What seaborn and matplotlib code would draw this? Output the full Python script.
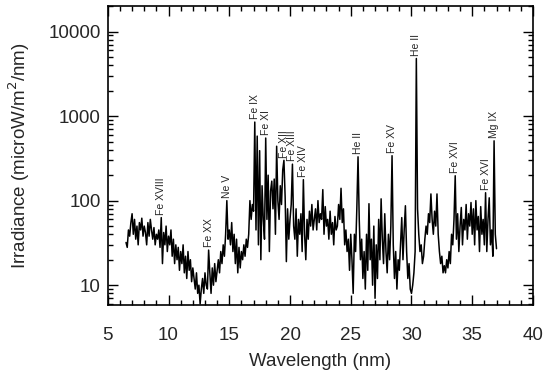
import numpy as np
import pandas as pd
import matplotlib
matplotlib.use("Agg")
import matplotlib.pyplot as plt
from matplotlib.ticker import MultipleLocator, LogLocator, FuncFormatter, NullFormatter
import seaborn as sns

# spectrum sampled every 0.1 nm starting at 6.5 nm
wl_start = 6.5
wl_step = 0.1
irradiance = [
    32, 28, 45, 38, 55, 70,                       # 6.5 - 7.0
    40, 60, 35, 50, 30, 55, 45, 62, 38, 50,       # 7.1 - 8.0
    42, 30, 55, 38, 60, 45, 35, 48, 30, 40,       # 8.1 - 9.0
    35, 45, 28, 63, 18, 42, 30, 50, 25, 38,       # 9.1 - 10.0
    30, 45, 22, 35, 18, 30, 20, 28, 15, 25,       # 10.1 - 11.0
    18, 30, 14, 22, 12, 25, 15, 20, 11, 16,       # 11.1 - 12.0
    12, 9, 14, 8, 10, 6, 9, 12, 8, 14,            # 12.1 - 13.0
    10, 9, 26, 14, 8, 16, 10, 18, 11, 15,         # 13.1 - 14.0
    20, 14, 25, 18, 30, 22, 40, 100, 35, 45,      # 14.1 - 15.0
    30, 55, 25, 40, 18, 35, 14, 28, 16, 25,       # 15.1 - 16.0
    20, 30, 22, 35, 28, 40, 100, 60, 90, 75,      # 16.1 - 17.0
    850, 45, 580, 30, 390, 20, 150, 60, 35, 550,  # 17.1 - 18.0
    60, 200, 25, 130, 170, 80, 180, 40, 440, 100, # 18.1 - 19.0
    60, 150, 90, 230, 300, 110, 19, 80, 35, 60,   # 19.1 - 20.0
    90, 270, 50, 35, 80, 22, 60, 40, 70, 25,      # 20.1 - 21.0
    177, 40, 20, 60, 35, 75, 50, 90, 45, 60,      # 21.1 - 22.0
    80, 45, 100, 55, 70, 60, 135, 40, 85, 50,     # 22.1 - 23.0
    60, 35, 75, 40, 55, 30, 65, 45, 50, 90,       # 23.1 - 24.0
    60, 140, 55, 80, 30, 45, 25, 35, 15, 40,      # 24.1 - 25.0
    20, 8, 40, 25, 80, 330, 60, 20, 35, 12,       # 25.1 - 26.0
    25, 9, 40, 15, 92, 20, 35, 10, 50, 7,         # 26.1 - 27.0
    30, 12, 60, 20, 105, 35, 18, 70, 25, 14,      # 27.1 - 28.0
    40, 20, 50, 340, 30, 12, 25, 9, 20, 15,       # 28.1 - 29.0
    30, 63, 20, 45, 87, 25, 12, 18, 9, 8,         # 29.1 - 30.0
    10, 14, 25, 4800, 80, 40, 25, 30, 18, 22,     # 30.1 - 31.0
    35, 50, 40, 70, 55, 120, 60, 40, 75, 50,      # 31.1 - 32.0
    120, 40, 25, 18, 22, 14, 17, 14, 20, 16,      # 32.1 - 33.0
    25, 18, 40, 30, 60, 197, 35, 70, 25, 50,      # 33.1 - 34.0
    83, 30, 60, 45, 90, 35, 70, 50, 95, 40,       # 34.1 - 35.0
    80, 30, 100, 45, 65, 25, 85, 40, 60, 30,      # 35.1 - 36.0
    124, 25, 60, 108, 30, 45, 22, 510, 40, 27,    # 36.1 - 37.0
]

line_names = ["Fe XVIII", "Fe XX", "Ne V", "Fe IX", "Fe XI", "Fe XII", "Fe XIII",
              "Fe XIV", "He II", "Fe XV", "He II", "Fe XVI", "Fe XVI", "Mg IX"]
line_wl = [9.4, 13.3, 14.8, 17.1, 18.0, 19.5, 20.2,
           21.1, 25.6, 28.4, 30.4, 33.6, 36.1, 36.8]

wavelength = np.round(wl_start + wl_step * np.arange(len(irradiance)), 1)
df = pd.DataFrame({"wavelength": wavelength, "irradiance": irradiance})

sns.set_style("ticks")
plt.rcParams["font.family"] = ["Liberation Sans", "DejaVu Sans"]

fig = plt.figure(figsize=(5.5, 3.81), dpi=100)
ax = fig.add_axes([0.196, 0.199, 0.773, 0.785])

sns.lineplot(data=df, x="wavelength", y="irradiance", color="black",
             linewidth=1.1, ax=ax)

ax.set_yscale("log")
ax.set_xlim(5, 40)
ax.set_ylim(5.8, 20000)

# line labels above each peak
for name, w in zip(line_names, line_wl):
    val = df.loc[np.isclose(df["wavelength"], w), "irradiance"].iloc[0]
    ax.annotate(name, xy=(w, val), xytext=(0, 2), textcoords="offset points",
                rotation=90, ha="center", va="bottom", fontsize=7.5)

ax.xaxis.set_major_locator(MultipleLocator(5))
ax.xaxis.set_minor_locator(MultipleLocator(1))
ax.yaxis.set_major_locator(LogLocator(base=10))
ax.yaxis.set_minor_locator(LogLocator(base=10, subs=np.arange(2, 10)))
ax.yaxis.set_major_formatter(FuncFormatter(lambda v, p: f"{v:.0f}"))
ax.yaxis.set_minor_formatter(NullFormatter())

ax.tick_params(which="both", direction="in", top=True, right=True,
               color="black", width=1.0)
ax.tick_params(which="major", length=7)
ax.tick_params(which="minor", length=3.5)
ax.tick_params(axis="x", which="major", labelsize=13.5, pad=16)
ax.tick_params(axis="y", which="major", labelsize=13.5, pad=5)
for s in ax.spines.values():
    s.set_linewidth(1.2)
    s.set_color("black")

ax.set_xlabel("Wavelength (nm)", fontsize=13.5, labelpad=6)
ax.set_ylabel("Irradiance (microW/m$^2$/nm)", fontsize=13.5, labelpad=12)

fig.savefig("out.png", dpi=100)
